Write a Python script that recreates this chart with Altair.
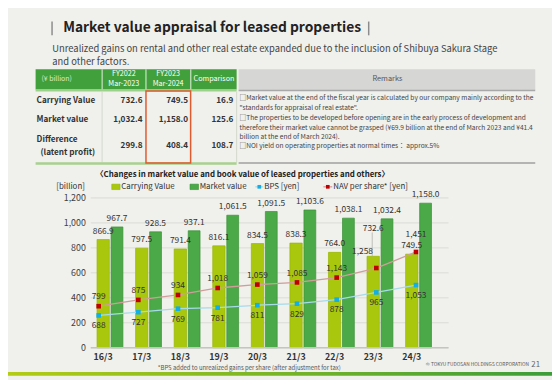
import altair as alt
import pandas as pd

# ---------------- data ----------------
categories = ["16/3", "17/3", "18/3", "19/3", "20/3", "21/3", "22/3", "23/3", "24/3"]
carrying_value = [866.9, 797.5, 791.4, 816.1, 834.5, 838.3, 764.0, 732.6, 749.5]
market_value = [967.7, 928.5, 937.1, 1061.5, 1091.5, 1103.6, 1038.1, 1032.4, 1158.0]
bps_yen = [688, 727, 769, 781, 811, 829, 878, 965, 1053]
nav_yen = [799, 875, 934, 1018, 1059, 1085, 1143, 1258, 1451]
y_ticks = [0, 200, 400, 600, 800, 1000, 1200]
y_domain = [0, 1200]
yen_domain = [300, 2100]

table_rows = ["Carrying Value", "Market value", "Difference"]
table_fy2022 = [732.6, 1032.4, 299.8]
table_fy2023 = [749.5, 1158.0, 408.4]
table_comparison = [16.9, 125.6, 108.7]

title_text = "Market value appraisal for leased properties"
subtitle_lines = [
    "Unrealized gains on rental and other real estate expanded due to the inclusion of Shibuya Sakura Stage",
    "and other factors.",
]
remarks_lines = [
    "□Market value at the end of the fiscal year is calculated by our company mainly according to the",
    "\"standards for appraisal of real estate\".",
    "□The properties to be developed before opening are in the early process of development and",
    "therefore their market value cannot be grasped (¥69.9 billion at the end of March 2023 and ¥41.4",
    "billion at the end of March 2024).",
    "□NOI yield on operating properties at normal times： approx.5%",
]
chart_title = "〈Changes in market value and book value of leased properties and others〉"
legend_labels = ["Carrying Value", "Market value", "BPS [yen]", "NAV per share* [yen]"]
footnote = "*BPS added to unrealized gains per share (after adjustment for tax)"
copyright_text = "© TOKYU FUDOSAN HOLDINGS CORPORATION"
page_number = "21"

# ---------------- style / layout ----------------
FONT = "Noto Sans CJK JP"
BG = "#f0f0ec"
TXT = "#333333"
C_CARRY, C_CARRY_S = "#a9c70d", "#98b500"
C_MARKET, C_MARKET_S = "#4ba947", "#3a9038"
C_BPS, C_BPS_L = "#12aee8", "#a6dbea"
C_NAV, C_NAV_L = "#c00000", "#cf9e9a"
GREEN_HDR = "#42a03c"

TOTAL_W, TOTAL_H = 552, 372
OX, OY = 92, 198          # plot origin in page pixels
PW, PH = 363, 152         # plot size
STEP = 40.25
FIRST = 15
X_DOMAIN = [-FIRST / STEP, (PW - FIRST) / STEP]


def px(x):
    return x - OX


def py(y):
    return y - OY


one = pd.DataFrame({"k": [0]})


def texts(items, size, color=TXT, weight="normal", align="left", font=FONT):
    d = pd.DataFrame([{"x": px(x), "y": py(y), "t": t} for x, y, t in items])
    return alt.Chart(d).mark_text(
        align=align, baseline="middle", fontSize=size, color=color,
        fontWeight=weight, font=font,
    ).encode(
        x=alt.X("x:Q", scale=None, axis=None),
        y=alt.Y("y:Q", scale=None, axis=None),
        text="t:N",
    )


def rect(x1, y1, x2, y2, **kw):
    return alt.Chart(one).mark_rect(**kw).encode(
        x=alt.value(px(x1)), x2=alt.value(px(x2)),
        y=alt.value(py(y1)), y2=alt.value(py(y2)),
    )


def rule(x1, y1, x2, y2, color, width=1.0):
    return alt.Chart(one).mark_rule(color=color, strokeWidth=width).encode(
        x=alt.value(px(x1)), x2=alt.value(px(x2)),
        y=alt.value(py(y1)), y2=alt.value(py(y2)),
    )


def square(x, y, color, size=20):
    return alt.Chart(one).mark_square(color=color, size=size, opacity=1).encode(
        x=alt.value(px(x)), y=alt.value(py(y))
    )


deco = []
# title
deco += [rule(52.7, 19, 52.7, 33, "#8c8c8c", 1.5), rule(374, 19, 374, 33, "#8c8c8c", 1.5)]
deco.append(texts([(64, 25.5, title_text)], 14, "#222222", "bold"))
deco.append(texts([(53, 47, subtitle_lines[0]), (53, 60.5, subtitle_lines[1])], 9.5, "#444444"))

# table header
deco.append(rect(36, 67.5, 240, 88, fill=GREEN_HDR))
for xs in (103.5, 148, 193.5):
    deco.append(rule(xs, 67.5, xs, 88, "#e8f2e4", 1))
deco.append(rect(242, 67.5, 543, 88.5, fill="#d6d6d4"))
deco.append(rule(36, 89, 240, 89, "#9fd08e", 2))
deco.append(rule(242, 89, 543, 89, "#a8a8a8", 1.5))
deco.append(texts([(42, 77, "(¥ billion)")], 7, "#d8eccf"))
deco.append(texts([
    (125.5, 72, "FY2022"), (125.5, 82, "Mar-2023"),
    (170.5, 72, "FY2023"), (170.5, 82, "Mar-2024"),
    (217, 77, "Comparison"),
], 7.3, "#ffffff", align="center"))
deco.append(texts([(393, 77, "Remarks")], 7.5, "#555555", align="center"))

# table body
deco.append(rule(103.5, 90, 103.5, 162, "#d2d8cc", 1))
deco.append(rule(240, 90, 240, 162, "#d2d8cc", 1))
deco.append(rule(36, 163, 240, 163, "#a9d18e", 2.5))
deco.append(rule(242, 162.5, 543, 162.5, "#b4b4b2", 2))
row_y = [99.5, 119, 145]
deco.append(texts([(37, row_y[0], table_rows[0]), (37, row_y[1], table_rows[1]),
                   (37, 139, table_rows[2]), (41, 152.5, "(latent profit)")],
                  8.3, "#333333", "bold"))
num_items = []
for vals, xr in ((table_fy2022, 144.5), (table_fy2023, 190.7), (table_comparison, 236.7)):
    for v, yy in zip(vals, row_y):
        num_items.append((xr, yy, f"{v:,.1f}"))
deco.append(texts(num_items, 8.3, "#333333", "bold", align="right"))
deco.append(rect(148, 89.5, 193.3, 162.5, fill=None, stroke="#e05a2e", strokeWidth=1.5, fillOpacity=0))
rem_y = [96.7, 106.7, 117.3, 126.7, 136.2, 145.6]
deco.append(texts([(243, yy, t) for yy, t in zip(rem_y, remarks_lines)], 6.7, "#444444"))

# chart title & legend
deco.append(texts([(246, 175, chart_title)], 8, "#222222", "bold", align="center"))
deco.append(texts([(86, 186.7, "[billion]")], 8, TXT, align="right"))
deco.append(rect(113.3, 184, 121.7, 189.5, fill=C_CARRY, stroke=C_CARRY_S, strokeWidth=0.6))
deco.append(rect(192.7, 184, 201.3, 189.5, fill=C_MARKET, stroke=C_MARKET_S, strokeWidth=0.6))
deco.append(rule(259, 186.7, 267, 186.7, C_BPS_L, 1.3))
deco.append(square(263, 186.7, C_BPS, 14))
deco.append(rule(328, 186.7, 337, 186.7, C_NAV_L, 1.3))
deco.append(square(332.5, 186.7, C_NAV, 14))
deco.append(texts([(123, 186.7, legend_labels[0]), (202.5, 186.7, legend_labels[1]),
                   (268, 186.7, legend_labels[2]), (338, 186.7, legend_labels[3])], 8, TXT))

# footer
deco.append(texts([(160, 370.5, footnote)], 6, "#555555"))
deco.append(texts([(432, 367.7, copyright_text)], 4.9, "#555555"))
deco.append(texts([(539, 367.5, page_number)], 8, "#666666"))
grad = alt.Gradient(
    gradient="linear",
    stops=[alt.GradientStop(color="#b3cc14", offset=0), alt.GradientStop(color="#3c9d3a", offset=1)],
    x1=0, x2=1, y1=0, y2=0,
)
deco.append(rect(8, 374.5, 560, 378.5, color=grad))

# ---------------- chart marks ----------------
df = pd.DataFrame({
    "cat": categories,
    "idx": list(range(len(categories))),
    "carrying": carrying_value,
    "market": market_value,
    "bps": bps_yen,
    "nav": nav_yen,
})
ticks_df = pd.DataFrame({"v": y_ticks})
base = alt.Chart(df)
xenc = alt.X("idx:Q", scale=alt.Scale(domain=X_DOMAIN, nice=False, zero=False), axis=None)
ysc = alt.Scale(domain=y_domain, nice=False, zero=True)
lab = dict(font=FONT, fontSize=8.5, color=TXT, baseline="middle")

grid = alt.Chart(ticks_df).mark_rule(color="#dadad7", strokeWidth=1).encode(
    y=alt.Y("v:Q", scale=ysc, axis=None), x=alt.value(0), x2=alt.value(PW))
ylabels = alt.Chart(ticks_df).mark_text(align="right", baseline="middle", font=FONT, fontSize=9,
                                        color="#404040").encode(
    y=alt.Y("v:Q", scale=ysc, axis=None), x=alt.value(-5), text=alt.Text("v:Q", format=","))
carry_bars = base.mark_bar(size=12.5, xOffset=-7, fill=C_CARRY, stroke=C_CARRY_S, strokeWidth=0.7).encode(
    x=xenc, y=alt.Y("carrying:Q", scale=ysc, axis=None))
market_bars = base.mark_bar(size=12, xOffset=7, fill=C_MARKET, stroke=C_MARKET_S, strokeWidth=0.7).encode(
    x=xenc, y=alt.Y("market:Q", scale=ysc, axis=None))
baseline = alt.Chart(one).mark_rule(color="#c4c4c2", strokeWidth=1.5).encode(
    x=alt.value(0), x2=alt.value(PW), y=alt.value(PH))
carry_lbl = base.transform_filter("datum.cat != '23/3'").mark_text(xOffset=-7, dy=-9, **lab).encode(
    x=xenc, y=alt.Y("carrying:Q", scale=ysc, axis=None), text=alt.Text("carrying:Q", format=",.1f"))
carry_lbl_moved = base.transform_filter("datum.cat == '23/3'").mark_text(xOffset=-7, dy=-29, **lab).encode(
    x=xenc, y=alt.Y("carrying:Q", scale=ysc, axis=None), text=alt.Text("carrying:Q", format=",.1f"))
leader = base.transform_filter("datum.cat == '23/3'").mark_rule(xOffset=-8, color="#b0b0ae", strokeWidth=0.8).encode(
    x=xenc, y=alt.Y("carrying:Q", scale=ysc, axis=None), y2=alt.value(py(233)))
market_lbl = base.mark_text(xOffset=7, dy=-9, **lab).encode(
    x=xenc, y=alt.Y("market:Q", scale=ysc, axis=None), text=alt.Text("market:Q", format=",.1f"))
x_labels = base.mark_text(xOffset=-7, font=FONT, fontSize=9, fontWeight="bold", color=TXT, baseline="middle").encode(
    x=xenc, y=alt.value(py(359.5)), text="cat:N")

bar_group = alt.layer(grid, ylabels, carry_bars, market_bars, baseline, leader, carry_lbl,
                      carry_lbl_moved, market_lbl, x_labels)

ysc2 = alt.Scale(domain=yen_domain, nice=False, zero=False)
bps_line = base.mark_line(xOffset=-7, color=C_BPS_L, strokeWidth=1.3).encode(
    x=xenc, y=alt.Y("bps:Q", scale=ysc2, axis=None))
nav_line = base.mark_line(xOffset=-7, color=C_NAV_L, strokeWidth=1.3).encode(
    x=xenc, y=alt.Y("nav:Q", scale=ysc2, axis=None))
bps_pts = base.mark_square(xOffset=-7, size=22, color=C_BPS, opacity=1).encode(
    x=xenc, y=alt.Y("bps:Q", scale=ysc2, axis=None))
nav_pts = base.mark_square(xOffset=-7, size=22, color=C_NAV, opacity=1).encode(
    x=xenc, y=alt.Y("nav:Q", scale=ysc2, axis=None))
bps_lbl = base.mark_text(xOffset=-7, dy=10, **lab).encode(
    x=xenc, y=alt.Y("bps:Q", scale=ysc2, axis=None), text=alt.Text("bps:Q", format=","))
nav_lbl = base.transform_filter("datum.cat != '23/3' && datum.cat != '24/3'").mark_text(xOffset=-7, dy=-10, **lab).encode(
    x=xenc, y=alt.Y("nav:Q", scale=ysc2, axis=None), text=alt.Text("nav:Q", format=","))
nav_lbl_24 = base.transform_filter("datum.cat == '24/3'").mark_text(xOffset=-7, dy=-18, **lab).encode(
    x=xenc, y=alt.Y("nav:Q", scale=ysc2, axis=None), text=alt.Text("nav:Q", format=","))
nav_lbl_23 = base.transform_filter("datum.cat == '23/3'").mark_text(xOffset=-21, dy=-17, **lab).encode(
    x=xenc, y=alt.Y("nav:Q", scale=ysc2, axis=None), text=alt.Text("nav:Q", format=","))

line_group = alt.layer(bps_line, nav_line, bps_pts, nav_pts, bps_lbl, nav_lbl, nav_lbl_24, nav_lbl_23)

chart = alt.layer(*deco, bar_group, line_group).resolve_scale(
    x="independent", y="independent"
).properties(
    width=PW, height=PH,
    padding={"left": OX - 8, "top": OY - 8, "right": TOTAL_W - (OX - 8) - PW, "bottom": TOTAL_H - (OY - 8) - PH},
    autosize=alt.AutoSizeParams(type="none"),
    background=BG,
).configure_view(stroke=None)

chart.save("out.html", embed_options={"renderer": "svg", "actions": False})
